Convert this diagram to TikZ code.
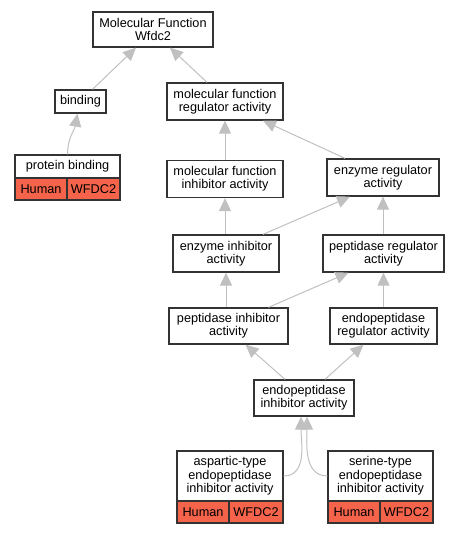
\documentclass[tikz,border=0pt]{standalone}
\usepackage{fontspec}
\setmainfont{Liberation Sans}
\usetikzlibrary{arrows.meta}
\definecolor{edgegray}{HTML}{C0C0C0}
\definecolor{boxline}{HTML}{333333}
\definecolor{genered}{HTML}{F4634A}
\tikzset{
  term/.style={draw=boxline, line width=1.3pt, fill=white, inner sep=0pt, align=center,
    font=\fontsize{12.7}{13.4}\selectfont},
  cell/.style={term, fill=genered},
  edge/.style={draw=edgegray, line width=1pt, -{Triangle[length=13pt,width=12pt]}},
}
\begin{document}
\begin{tikzpicture}[x=1pt,y=-1pt]
\useasboundingbox (0,0) rectangle (460,533);
% nodes
\node[term, minimum width=120, minimum height=35] (mf) at (153,29.5) {Molecular Function\\Wfdc2};
\node[term, minimum width=51, minimum height=23] (bind) at (80.5,101.5) {binding};
\node[term, minimum width=105, minimum height=23] (pb) at (67.5,166.5) {protein binding};
\node[cell, minimum width=52, minimum height=22] (pbh) at (41,189) {Human};
\node[cell, minimum width=53, minimum height=22] (pbg) at (93.5,189) {WFDC2};
\node[term, minimum width=116, minimum height=37] (mfreg) at (225,101.5) {molecular function\\regulator activity};
\node[term, minimum width=116, minimum height=37] (mfinh) at (225,179) {molecular function\\inhibitor activity};
\node[term, minimum width=112, minimum height=37] (enzreg) at (383,177.5) {enzyme regulator\\activity};
\node[term, minimum width=106, minimum height=37] (enzinh) at (226,253.5) {enzyme inhibitor\\activity};
\node[term, minimum width=121, minimum height=37] (pepreg) at (383.5,253.5) {peptidase regulator\\activity};
\node[term, minimum width=119, minimum height=36] (pepinh) at (228.5,326) {peptidase inhibitor\\activity};
\node[term, minimum width=107, minimum height=36] (endoreg) at (383.5,326) {endopeptidase\\regulator activity};
\node[term, minimum width=100, minimum height=36] (endoinh) at (304,398) {endopeptidase\\inhibitor activity};
\node[term, minimum width=106, minimum height=50] (asp) at (230,476) {aspartic-type\\endopeptidase\\inhibitor activity};
\node[cell, minimum width=52, minimum height=22] (asph) at (203,512) {Human};
\node[cell, minimum width=54, minimum height=22] (aspg) at (256,512) {WFDC2};
\node[term, minimum width=105, minimum height=50] (ser) at (380.5,476) {serine-type\\endopeptidase\\inhibitor activity};
\node[cell, minimum width=52, minimum height=22] (serh) at (354,512) {Human};
\node[cell, minimum width=53, minimum height=22] (serg) at (406.5,512) {WFDC2};
% edges
\draw[edge] ([xshift=12]bind.north) -- ([xshift=-17]mf.south);
\draw[edge] ([xshift=-18]mfreg.north) -- ([xshift=17]mf.south);
\draw[edge] (pb.north) to[out=90,in=-100] ([xshift=-3]bind.south);
\draw[edge] (mfinh) -- (mfreg);
\draw[edge] ([xshift=-38]enzreg.north) -- ([xshift=38]mfreg.south);
\draw[edge] (enzinh.north -| mfinh.south) -- (mfinh.south);
\draw[edge] ([xshift=37]enzinh.north) -- ([xshift=-33]enzreg.south);
\draw[edge] (pepreg.north -| enzreg.south) -- (enzreg.south);
\draw[edge] (pepinh.north -| enzinh.south) -- (enzinh.south);
\draw[edge] ([xshift=40]pepinh.north) -- ([xshift=-35]pepreg.south);
\draw[edge] (endoreg) -- (pepreg);
\draw[edge] ([xshift=-19]endoinh.north) -- ([xshift=17]pepinh.south);
\draw[edge] ([xshift=21]endoinh.north) -- ([xshift=-20]endoreg.south);
\draw[edge] (asp.east) to[out=0,in=-90] ([xshift=-3]endoinh.south);
\draw[edge] (ser.west) to[out=180,in=-90] ([xshift=3]endoinh.south);
\end{tikzpicture}
\end{document}
